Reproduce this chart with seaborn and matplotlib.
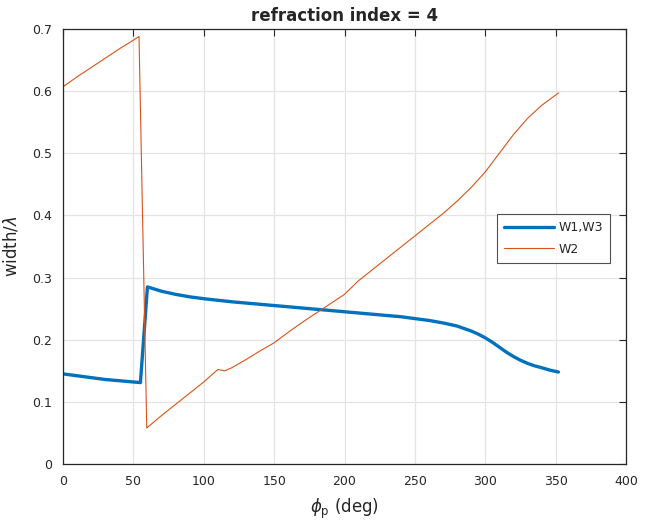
import numpy as np
import pandas as pd
import matplotlib
matplotlib.use("Agg")
import matplotlib.pyplot as plt
import seaborn as sns

# W1,W3 data
phi_w13 = [0, 10, 20, 30, 40, 50, 55, 60, 70, 80, 90, 100, 120, 140, 160, 180, 200,
           220, 240, 250, 260, 270, 280, 285, 290, 295, 300, 305, 310, 315, 320, 325,
           330, 335, 340, 346, 352]
w13 = [0.145, 0.142, 0.139, 0.136, 0.134, 0.132, 0.131, 0.285, 0.278, 0.273, 0.269,
       0.266, 0.261, 0.257, 0.253, 0.249, 0.245, 0.241, 0.237, 0.234, 0.231, 0.227,
       0.222, 0.218, 0.214, 0.209, 0.203, 0.196, 0.188, 0.180, 0.173, 0.167,
       0.162, 0.158, 0.155, 0.151, 0.148]

# W2 data
phi_w2 = [0, 10, 20, 30, 40, 50, 54, 59.5, 70, 80, 90, 100, 110, 115, 120, 130, 140,
          150, 160, 170, 180, 190, 200, 210, 220, 230, 240, 250, 260, 270, 280, 290,
          300, 310, 320, 330, 340, 352]
w2 = [0.607, 0.623, 0.638, 0.653, 0.668, 0.682, 0.688, 0.058, 0.078, 0.096, 0.114,
      0.132, 0.152, 0.150, 0.155, 0.168, 0.182, 0.195, 0.212, 0.228, 0.243, 0.258,
      0.273, 0.295, 0.313, 0.331, 0.349, 0.367, 0.385, 0.403, 0.423, 0.445, 0.470,
      0.500, 0.530, 0.556, 0.577, 0.597]

xticks = [0, 50, 100, 150, 200, 250, 300, 350, 400]
yticks = [0, 0.1, 0.2, 0.3, 0.4, 0.5, 0.6, 0.7]

sns.set_style("white")
plt.rcParams['font.family'] = ['DejaVu Sans']

fig = plt.figure(figsize=(6.53, 5.29), dpi=100)
ax = fig.add_axes([63/653, 1 - 464/529, (626-63)/653, (464-29)/529])

sns.lineplot(x=phi_w13, y=w13, ax=ax, color="#0072BD", linewidth=2.4,
             estimator=None, sort=False, label="W1,W3")
sns.lineplot(x=phi_w2, y=w2, ax=ax, color="#D95319", linewidth=0.8,
             estimator=None, sort=False, label="W2")

ax.set_xlim(0, 400)
ax.set_ylim(0, 0.7)
ax.set_xticks(xticks)
ax.set_yticks(yticks)
ax.set_xticklabels([str(t) for t in xticks])
ax.set_yticklabels(["0" if t == 0 else f"{t:g}" for t in yticks])
ax.grid(True, color="#e3e3e3", linewidth=0.9)
ax.set_axisbelow(True)
for s in ax.spines.values():
    s.set_visible(True)
    s.set_color("#262626")
    s.set_linewidth(0.9)
ax.tick_params(direction="in", length=5, width=0.8, top=True, right=True,
               labelsize=9, colors="#262626", pad=8)

ax.set_xlabel(r"$\phi_{\rm p}$ (deg)", fontsize=12, color="#262626", labelpad=6)
ax.set_ylabel(r"width/$\lambda$", fontsize=12, color="#262626", labelpad=8)
ax.set_title("refraction index = 4", fontsize=12, fontweight="bold", pad=6)

leg = ax.legend(loc="upper left", bbox_to_anchor=((497 - 63) / 563, 1 - (214 - 29) / 435),
                borderaxespad=0, frameon=True, fancybox=False, fontsize=9,
                handlelength=4.0, handletextpad=0.4, borderpad=0.55,
                labelspacing=0.7)
leg.get_frame().set_edgecolor("#262626")
leg.get_frame().set_linewidth(0.8)

fig.savefig("out.png", dpi=100)
